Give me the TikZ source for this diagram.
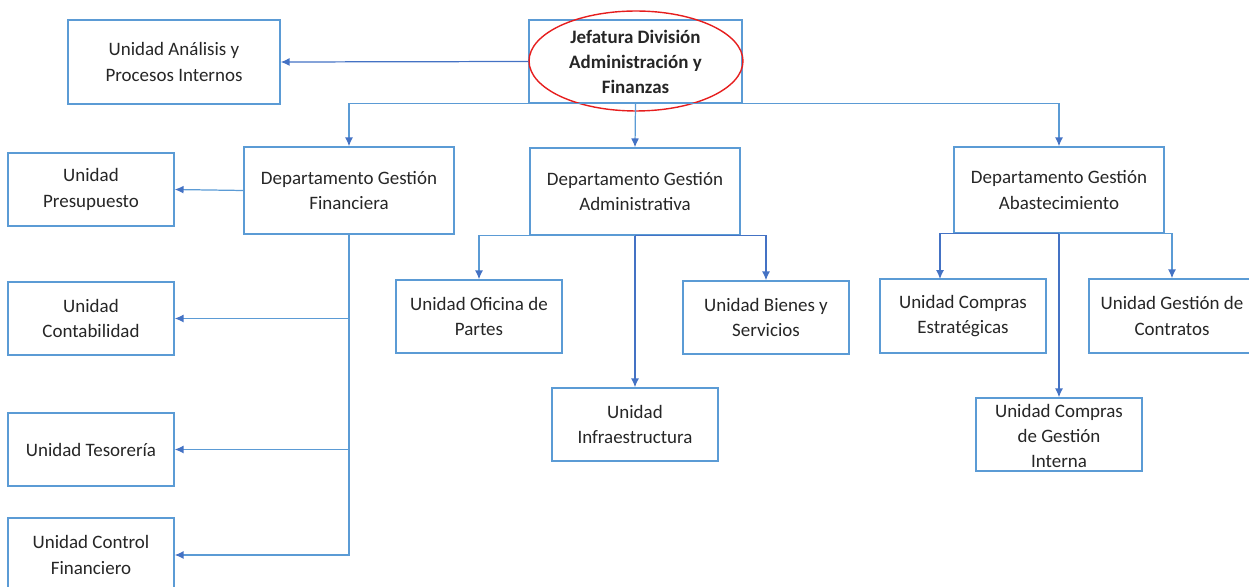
\documentclass[tikz,border=0pt]{standalone}
\usepackage{fontspec}
\setmainfont{Carlito}
\usetikzlibrary{fit,arrows.meta,calc,shapes.geometric}
\definecolor{boxblue}{RGB}{91,155,213}
\definecolor{arrblue}{RGB}{68,114,196}
\definecolor{ellred}{RGB}{230,30,30}
\newcommand\bx[4][]{%
  \node[box,fit={#3}] (#2) {};
  \node[txt,#1] (#2-t) at (#2.center) {#4};}
\begin{document}
\begin{tikzpicture}[x=0.02cm,y=-0.02cm,
  box/.style={draw=boxblue,line width=0.85pt,inner sep=0pt},
  txt/.style={inner sep=0pt,align=center,
    font=\fontsize{10.8}{14.4}\selectfont,text=black!85},
  conn/.style={draw=boxblue,line width=0.7pt,-{Latex[length=5pt,width=4.5pt,color=arrblue]}},
  dconn/.style={conn,draw=arrblue}]
\useasboundingbox (0,0) rectangle (1249,587);
% top
\bx{ana}{(68,20) (280,104)}{Unidad Análisis y\\Procesos Internos}
\bx[font=\fontsize{10.8}{14.2}\selectfont\bfseries]{jef}{(529,20) (742,103)}{Jefatura División\\Administración y\\Finanzas}
\node[draw=ellred,line width=0.8pt,ellipse,minimum width=4.28cm,minimum height=2cm,inner sep=0pt] (ell) at (636,61) {};
% departments
\bx{fin}{(244,147) (454,234)}{Departamento Gestión\\Financiera}
\bx{adm}{(530,148) (740,235)}{Departamento Gestión\\Administrativa}
\bx{aba}{(954,147) (1164,233)}{Departamento Gestión\\Abastecimiento}
% financiera units
\bx{pre}{(8,153) (174,226)}{Unidad\\Presupuesto}
\bx{con}{(8,282) (174,355)}{Unidad\\Contabilidad}
\bx{tes}{(8,413) (174,486)}{Unidad Tesorería}
\bx{ctl}{(8,518) (174,592)}{Unidad Control\\Financiero}
% administrativa units
\bx{ofi}{(396,280) (562,353)}{Unidad Oficina de\\Partes}
\bx{bie}{(683,281) (849,354)}{Unidad Bienes y\\Servicios}
\bx{inf}{(552,388) (718,461)}{Unidad\\Infraestructura}
% abastecimiento units
\bx{ces}{(880,279) (1046,353)}{Unidad Compras\\Estratégicas}
\bx{gco}{(1089,279) (1255,353)}{Unidad Gestión de\\Contratos}
\bx[yshift=-0.8pt]{cgi}{(976,398) (1142,471)}{Unidad Compras\\de Gestión\\Interna}
\coordinate (cesin) at (940,279);
% connectors
\draw[dconn] (jef.west) -- (ana.east);
\draw[conn] (jef.south) -| (fin.north);
\draw[conn] (jef.south) -- (adm.north);
\draw[conn] (jef.south) -| (aba.north);
\draw[conn] (fin.west) -- (pre.east);
\draw[conn] (fin.south) |- (con.east);
\draw[conn] (fin.south) |- (tes.east);
\draw[conn] (fin.south) |- (ctl.east);
\draw[conn] (adm.south) -| (ofi.north);
\draw[dconn] (adm.south) -- (inf.north);
\draw[dconn] (adm.south) -| (bie.north);
\draw[dconn] (aba.south) -| (cesin);
\draw[dconn] (aba.south) -- (cgi.north);
\draw[conn] (aba.south) -| (gco.north);
\end{tikzpicture}
\end{document}
